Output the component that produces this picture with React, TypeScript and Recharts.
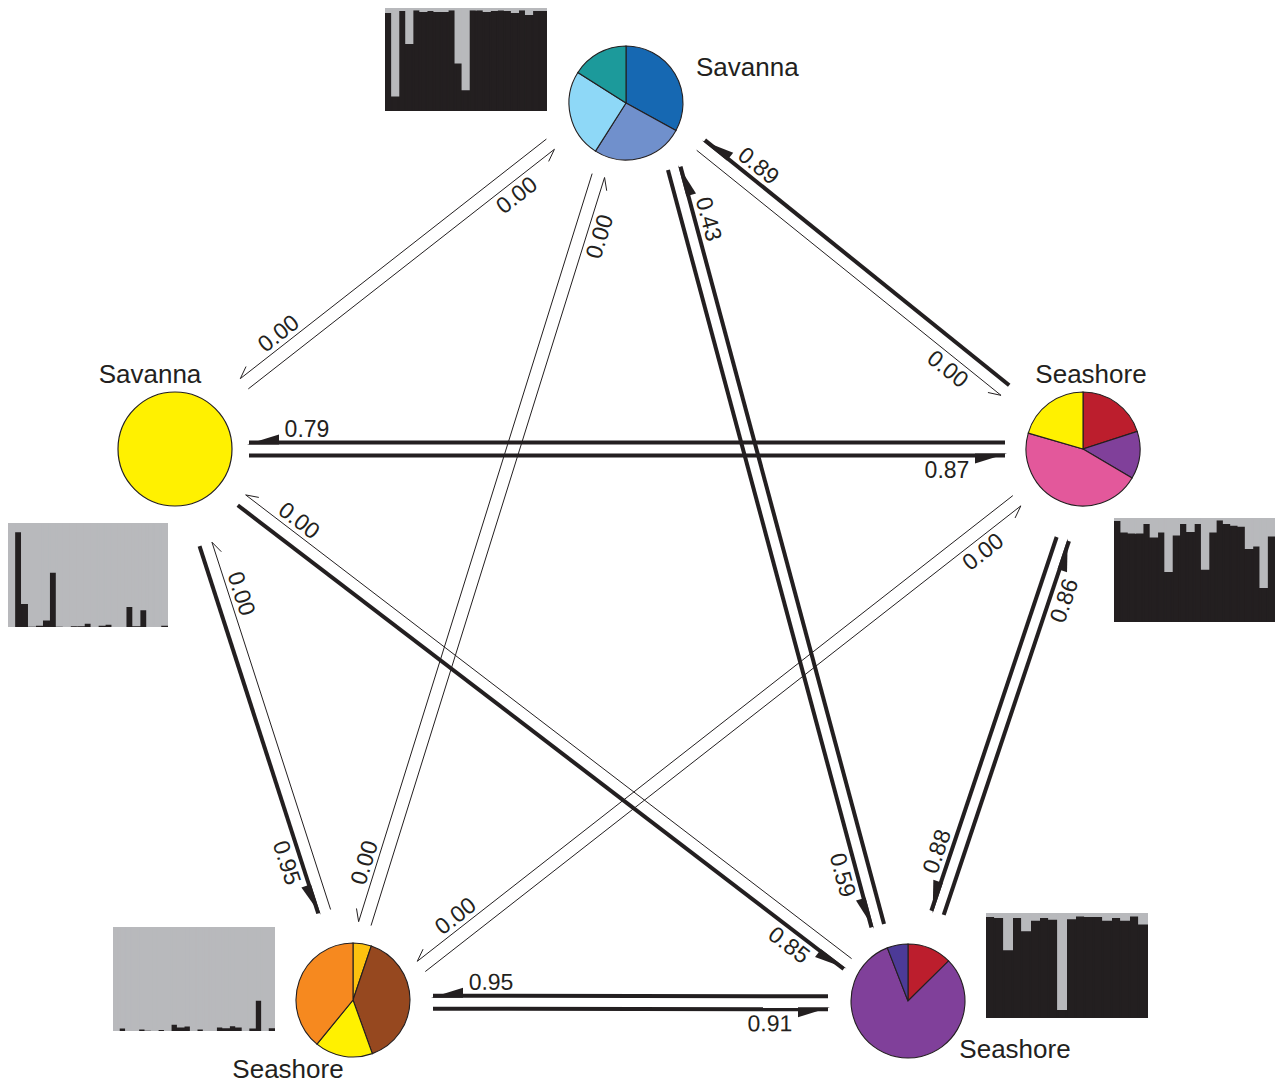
import React from 'react';
import { ScatterChart, Scatter, XAxis, YAxis, ReferenceLine, Sector, Dot, BarChart, Bar } from 'recharts';

// ---------- data ----------
const NODE_IDS = ['T', 'L', 'R', 'BL', 'BR'];
const NODE_NAMES = ['Savanna', 'Savanna', 'Seashore', 'Seashore', 'Seashore'];
const NODE_X = [626, 175, 1083, 353, 908];
const NODE_Y = [103, 449, 449, 1000, 1001];

const PIE_T = [0.33, 0.26, 0.25, 0.16];
const PIE_L = [1];
const PIE_R = [0.2, 0.135, 0.46, 0.205];
const PIE_BL = [0.052, 0.393, 0.164, 0.391];
const PIE_BR = [0.126, 0.815, 0.059];

const ARROW_FROM = ['T', 'L', 'R', 'T', 'R', 'L', 'BR', 'T', 'BL', 'T', 'L', 'BL', 'BR', 'L', 'BL', 'R', 'BR', 'R', 'BR', 'BL'];
const ARROW_TO = ['L', 'T', 'T', 'R', 'L', 'R', 'T', 'BR', 'T', 'BL', 'BL', 'L', 'L', 'BR', 'R', 'BL', 'R', 'BR', 'BL', 'BR'];
const ARROW_VALUE = [0, 0, 0.89, 0, 0.79, 0.87, 0.43, 0.59, 0, 0, 0.95, 0, 0, 0.85, 0, 0, 0.86, 0.88, 0.95, 0.91];

// structure plots (proportion of black cluster per individual)
const STRUCT_T = [0.96, 0.15, 0.98, 0.66, 0.985, 0.97, 0.98, 0.97, 0.97, 0.985, 0.47, 0.21, 0.985, 0.985, 0.97, 0.98, 0.985, 0.98, 0.96, 0.985, 0.94, 0.98, 0.98];
const STRUCT_L = [0.005, 0.92, 0.23, 0.01, 0.02, 0.07, 0.53, 0.01, 0, 0.015, 0.015, 0.04, 0, 0.02, 0.03, 0.005, 0.005, 0.2, 0.015, 0.17, 0.005, 0.005, 0.02];
const STRUCT_R = [0.98, 0.87, 0.86, 0.86, 0.95, 0.82, 0.87, 0.49, 0.84, 0.95, 0.875, 0.95, 0.51, 0.87, 0.985, 0.95, 0.935, 0.925, 0.71, 0.735, 0.335, 0.83];
const STRUCT_BR = [0.97, 0.96, 0.655, 0.96, 0.835, 0.935, 0.96, 0.945, 0.085, 0.95, 0.975, 0.97, 0.97, 0.935, 0.96, 0.935, 0.975, 0.9];
const STRUCT_BL = [0.003, 0.032, 0.006, 0.006, 0.022, 0.01, 0, 0.019, 0.006, 0.068, 0.042, 0.051, 0.006, 0.022, 0.006, 0, 0.042, 0.035, 0.055, 0.042, 0.006, 0.032, 0.3, 0.006, 0.035];

// ---------- styles / layout ----------
const INK = '#231f20';
const GRAY = '#b8b9bc';
const FONT = '"Liberation Sans", Arial, Helvetica, sans-serif';
const PIE_COLORS: Record<string, string[]> = {
  T: ['#1668b2', '#7090cc', '#8ed8f7', '#1c9a9b'],
  L: ['#fff100'],
  R: ['#bc1e2d', '#80409a', '#e3589b', '#fff100'],
  BL: ['#fdc20f', '#96481f', '#fff100', '#f6891f'],
  BR: ['#bc1e2d', '#80409a', '#4c3a97'],
};
const PIE_DATA: Record<string, number[]> = { T: PIE_T, L: PIE_L, R: PIE_R, BL: PIE_BL, BR: PIE_BR };
const LABEL_POS: Record<string, { dx: number; dy: number; anchor: string }> = {
  T: { dx: 70, dy: -27, anchor: 'start' },
  L: { dx: -25, dy: -66, anchor: 'middle' },
  R: { dx: 8, dy: -66, anchor: 'middle' },
  BL: { dx: -65, dy: 78, anchor: 'middle' },
  BR: { dx: 107, dy: 57, anchor: 'middle' },
};
const PIE_R_PX = 57;
// gap (px) between an edge's anchor and the end of its arrows, per node pair end
const EDGE_GAP: Record<string, number> = {
  'T|L': 96, 'L|T': 88,
  'T|R': 96, 'R|T': 100,
  'L|R': 74, 'R|L': 78,
  'T|BR': 78, 'BR|T': 78,
  'T|BL': 76, 'BL|T': 80,
  'L|BL': 100, 'BL|L': 93,
  'L|BR': 84, 'BR|L': 76,
  'R|BL': 84, 'BL|R': 74,
  'R|BR': 95, 'BR|R': 93,
  'BL|BR': 80, 'BR|BL': 80,
};
// anchor shift (px) of a node for a given edge
const EDGE_SHIFT: Record<string, [number, number]> = {
  'T|L': [0, -18], 'L|T': [0, -11],
  'T|R': [0, -18], 'R|T': [0, 4],
  'T|BR': [28, -10], 'BR|T': [-10, 0],
  'BL|T': [-12, 0], 'T|BL': [-5, 0],
  'BL|BR': [0, 2], 'BR|BL': [0, 2],
  'BR|L': [0, 9],
  'BL|R': [10, 12],
  'R|BR': [10, 0],
};
const PLOT_BOXES: Record<string, { left: number; top: number; width: number; height: number; bg: string }> = {
  T: { left: 385, top: 8, width: 162, height: 103, bg: INK },
  L: { left: 8, top: 523, width: 160, height: 104, bg: GRAY },
  R: { left: 1114, top: 518, width: 161, height: 104, bg: INK },
  BR: { left: 986, top: 913, width: 162, height: 105, bg: INK },
  BL: { left: 113, top: 927, width: 162, height: 104, bg: GRAY },
};
const STRUCT_DATA: Record<string, number[]> = { T: STRUCT_T, L: STRUCT_L, R: STRUCT_R, BR: STRUCT_BR, BL: STRUCT_BL };

const nodes = NODE_IDS.map((id, i) => ({ id, name: NODE_NAMES[i], x: NODE_X[i], y: NODE_Y[i] }));
const nodeById: Record<string, { id: string; x: number; y: number }> = {};
nodes.forEach((n) => (nodeById[n.id] = n));

const arrows = ARROW_FROM.map((f, i) => ({ from: f, to: ARROW_TO[i], value: ARROW_VALUE[i] }));

// ---------- shapes ----------
function NodeShape(props: any) {
  const { cx, cy, payload } = props;
  const fr = PIE_DATA[payload.id];
  const cols = PIE_COLORS[payload.id];
  const lp = LABEL_POS[payload.id];
  let acc = 0;
  const slices =
    fr.length === 1 ? (
      <Dot cx={cx} cy={cy} r={PIE_R_PX} fill={cols[0]} stroke={INK} strokeWidth={1.2} />
    ) : (
      fr.map((f, i) => {
        const start = 90 - acc * 360;
        acc += f;
        const end = 90 - acc * 360;
        return (
          <Sector
            key={i}
            cx={cx}
            cy={cy}
            innerRadius={0}
            outerRadius={PIE_R_PX}
            startAngle={start}
            endAngle={end}
            fill={cols[i]}
            stroke={INK}
            strokeWidth={1.1}
          />
        );
      })
    );
  return (
    <g>
      {slices}
      <text x={cx + lp.dx} y={cy + lp.dy} textAnchor={lp.anchor as any} fontFamily={FONT} fontSize={26} fill={INK}>
        {payload.name}
      </text>
    </g>
  );
}

function ArrowShape(props: any) {
  const { x1, y1, x2, y2, value, gapFrom, gapTo } = props;
  const dx = x2 - x1;
  const dy = y2 - y1;
  const len = Math.hypot(dx, dy) || 1;
  const ux = dx / len;
  const uy = dy / len;
  const nx = -uy;
  const ny = ux;
  const off = 6.5;
  const sx = x1 + ux * gapFrom + nx * off;
  const sy = y1 + uy * gapFrom + ny * off;
  const ex = x2 - ux * gapTo + nx * off;
  const ey = y2 - uy * gapTo + ny * off;
  const thick = value > 0;
  const w = thick ? 4 : 1;
  let head: React.ReactNode;
  if (thick) {
    const L = 30;
    const W = 6;
    const tx = ex + ux * 2 - nx * (w / 2);
    const ty = ey + uy * 2 - ny * (w / 2);
    const b1x = ex - ux * L - nx * (w / 2);
    const b1y = ey - uy * L - ny * (w / 2);
    const b2x = ex - ux * L + nx * (w / 2 + W);
    const b2y = ey - uy * L + ny * (w / 2 + W);
    head = <polygon points={`${tx},${ty} ${b2x},${b2y} ${b1x},${b1y}`} fill={INK} />;
  } else {
    const bx = ex - ux * 12 + nx * 6;
    const by = ey - uy * 12 + ny * 6;
    head = <line x1={ex} y1={ey} x2={bx} y2={by} stroke={INK} strokeWidth={1} />;
  }
  const lx = ex - ux * 58 + nx * (w / 2 + 12);
  const ly = ey - uy * 58 + ny * (w / 2 + 12);
  let ang = (Math.atan2(uy, ux) * 180) / Math.PI;
  if (ang > 90) ang -= 180;
  if (ang <= -90) ang += 180;
  return (
    <g>
      <line x1={sx} y1={sy} x2={ex} y2={ey} stroke={INK} strokeWidth={w} />
      {head}
      <text
        x={lx}
        y={ly}
        transform={`rotate(${ang} ${lx} ${ly})`}
        textAnchor="middle"
        dominantBaseline="central"
        fontFamily={FONT}
        fontSize={23}
        fill={INK}
      >
        {value.toFixed(2)}
      </text>
    </g>
  );
}

function StructurePlot({ id }: { id: string }) {
  const box = PLOT_BOXES[id];
  const data = STRUCT_DATA[id].map((v, i) => ({ i, a: v, b: 1 - v }));
  return (
    <div
      style={{
        position: 'absolute',
        left: box.left,
        top: box.top,
        width: box.width,
        height: box.height,
        background: box.bg,
        overflow: 'hidden',
      }}
    >
      <BarChart
        width={box.width}
        height={box.height}
        data={data}
        margin={{ top: 0, right: 0, bottom: 0, left: 0 }}
        barCategoryGap={0}
        barGap={0}
      >
        <XAxis dataKey="i" hide />
        <YAxis hide domain={[0, 1]} type="number" allowDataOverflow />
        <Bar dataKey="a" stackId="s" fill={INK} stroke={INK} strokeWidth={1.8} barSize={1000} isAnimationActive={false} />
        <Bar dataKey="b" stackId="s" fill={GRAY} stroke={GRAY} strokeWidth={1.8} barSize={1000} isAnimationActive={false} />
      </BarChart>
    </div>
  );
}

function endKey(a: string, b: string) {
  return `${a}|${b}`;
}

export default function App() {
  return (
    <div style={{ position: 'absolute', left: 0, top: 0, width: 1275, height: 1085, background: '#fff', overflow: 'hidden' }}>
      <ScatterChart width={1275} height={1085} margin={{ top: 0, right: 0, bottom: 0, left: 0 }}>
        <XAxis type="number" dataKey="x" domain={[0, 1275]} hide />
        <YAxis type="number" dataKey="y" domain={[0, 1085]} reversed hide />
        {arrows.map((a, i) => {
          const A = nodeById[a.from];
          const B = nodeById[a.to];
          const sA = EDGE_SHIFT[endKey(a.from, a.to)] ?? [0, 0];
          const sB = EDGE_SHIFT[endKey(a.to, a.from)] ?? [0, 0];
          const gF = EDGE_GAP[endKey(a.from, a.to)] ?? 85;
          const gT = EDGE_GAP[endKey(a.to, a.from)] ?? 85;
          return (
            <ReferenceLine
              key={i}
              segment={[
                { x: A.x + sA[0], y: A.y + sA[1] },
                { x: B.x + sB[0], y: B.y + sB[1] },
              ]}
              ifOverflow="visible"
              shape={(p: any) => <ArrowShape {...p} value={a.value} gapFrom={gF} gapTo={gT} />}
            />
          );
        })}
        <Scatter data={nodes} shape={NodeShape} isAnimationActive={false} />
      </ScatterChart>
      {['T', 'L', 'R', 'BR', 'BL'].map((id) => (
        <StructurePlot key={id} id={id} />
      ))}
    </div>
  );
}
